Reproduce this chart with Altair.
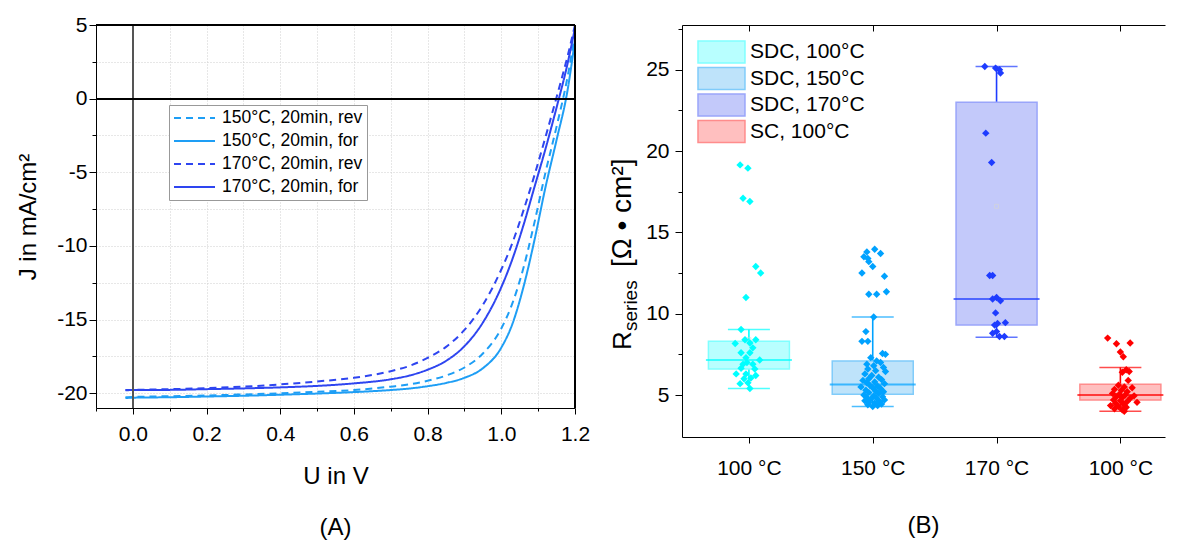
import altair as alt
import pandas as pd

# ---------------- Panel (A): J-V curves ----------------
U = [-0.02, 0.0, 0.1, 0.2, 0.3, 0.4, 0.5, 0.6, 0.7, 0.75, 0.8, 0.85, 0.9, 0.95,
     1.0, 1.03, 1.06, 1.09, 1.12, 1.15, 1.18, 1.2]
J_150_rev = [-20.27, -20.25, -20.2, -20.15, -20.08, -20.0, -19.9, -19.78, -19.55, -19.4,
             -19.15, -18.8, -18.25, -17.3, -15.6, -13.9, -11.5, -8.4, -5.0, -1.9, 1.5, 4.4]
J_150_for = [-20.32, -20.3, -20.27, -20.22, -20.17, -20.1, -20.02, -19.92, -19.78, -19.68,
             -19.52, -19.3, -18.95, -18.3, -16.9, -15.3, -12.8, -9.6, -6.0, -2.8, 0.6, 4.0]
J_170_rev = [-19.78, -19.77, -19.72, -19.65, -19.55, -19.4, -19.2, -18.95, -18.5, -18.15,
             -17.6, -16.85, -15.7, -14.0, -11.6, -9.8, -7.6, -5.2, -2.6, 0.1, 2.9, 5.0]
J_170_for = [-19.8, -19.78, -19.77, -19.72, -19.67, -19.6, -19.5, -19.33, -19.05, -18.8,
             -18.4, -17.8, -16.8, -15.2, -12.8, -10.9, -8.6, -6.0, -3.4, -0.6, 2.4, 4.8]
curve_names = ["150°C, 20min, rev", "150°C, 20min, for", "170°C, 20min, rev", "170°C, 20min, for"]
curve_colors = ["#1E9EF5", "#1E9EF5", "#2E45F0", "#2E45F0"]
curve_dashes = [[7, 5], [1, 0], [7, 5], [1, 0]]

x_ticks_A = [-0.1, 0.0, 0.1, 0.2, 0.3, 0.4, 0.5, 0.6, 0.7, 0.8, 0.9, 1.0, 1.1, 1.2]
x_labeled_A = ["0.0", "0.2", "0.4", "0.6", "0.8", "1.0", "1.2"]
y_ticks_A = [-20, -17.5, -15, -12.5, -10, -7.5, -5, -2.5, 0, 2.5, 5]

# ---------------- Panel (B): R_series box plots ----------------
groups = ["SDC, 100°C", "SDC, 150°C", "SDC, 170°C", "SC, 100°C"]
cat_labels = ["100 °C", "150 °C", "170 °C", "100 °C"]
positions = [1, 2, 3, 4]
q1 = [6.6, 5.05, 9.3, 4.7]
q3 = [8.3, 7.1, 23.0, 5.67]
med = [7.15, 5.65, 10.9, 5.0]
lo = [5.4, 4.3, 8.55, 4.0]
hi = [9.03, 9.8, 25.2, 6.7]
mean = [8.4, 6.4, 16.6, 5.3]

g1_vals = [19.15, 18.95, 17.1, 16.9, 12.9, 12.5, 11.0, 9.03, 8.4, 8.4,
           8.2, 8.17, 7.9, 7.6, 7.6, 7.3, 7.15, 7.0, 6.9, 6.9,
           6.65, 6.6, 6.3, 6.3, 6.2, 6.05, 6.0, 5.75, 5.7, 5.4]
g1_dx = [-9, -1, -6, 1, 7, 12, -3, -8, -4, 7,
         1, -14, 4, -8, 1, -3, 11, -2, -6, 4,
         -8, 6, -3, -13, 7, 2, -5, -1, -9, 1]
g2_vals = [13.96, 13.8, 13.7, 13.5, 13.4, 13.2, 12.9, 12.5, 12.3, 11.35,
           11.2, 11.2, 9.8, 8.9, 8.3, 8.3,
           7.55, 7.5, 7.3, 7.1, 7.0, 6.9, 6.8, 6.7, 6.6, 6.5,
           6.45, 6.3, 6.2, 6.1, 6.0, 5.95, 5.9, 5.8, 5.75, 5.7,
           5.6, 5.55, 5.5, 5.45, 5.4, 5.3, 5.25, 5.2, 5.15, 5.1,
           5.0, 4.95, 4.9, 4.85, 4.8, 4.75, 4.7, 4.65, 4.6, 4.55,
           4.5, 4.45, 4.4, 4.35, 4.3]
g2_dx = [2, -6, 8, -9, -5, -4, 0, -11, 12, 14,
         -4, 4, 1, -7, -11, -5,
         10, 13, -2, 4, 8, -6, 1, 11, -5, 3,
         13, -8, -1, 6, -4, 9, -10, 2, -6, 12,
         -3, 5, -12, 0, 8, -7, 3, 11, -4, 6,
         -9, 1, 10, -6, 4, -2, 12, -8, 7, -4,
         2, 9, -5, 5, 0]
g3_vals = [25.2, 25.1, 25.0, 24.8, 21.1, 19.3, 12.35, 12.35, 11.0, 10.9,
           10.8, 10.05, 9.45, 9.4, 9.3, 8.9, 8.8, 8.6, 8.6]
g3_dx = [-12, -1, 3, 4, -11, -5, -7, -4, 0, -4,
         4, -1, 9, 1, -2, 0, -4, 3, 8]
g4_vals = [8.5, 8.2, 8.15, 7.65, 7.35, 6.55, 6.45, 6.4, 5.9, 5.6,
           5.5, 5.45, 5.35, 5.3, 5.2, 5.1, 5.05, 5.0, 4.95, 4.9,
           4.85, 4.8, 4.7, 4.65, 4.6, 4.55, 4.5, 4.45, 4.35, 4.3,
           4.25, 4.15, 4.1, 4.0]
g4_dx = [-13, 10, -4, 0, 3, 6, 9, 2, 8, -2,
         4, 12, -6, 1, 7, -8, -1, 5, 14, -4,
         2, 10, -7, 0, 7, 17, -5, 3, -10, -2,
         6, -6, 2, 4]

pt_colors = ["#00FFFF", "#00A2FF", "#1E3CFF", "#FF0000"]
box_fill = ["#B8FFFF", "#BEE3FA", "#C3C9FA", "#FFBFBF"]
box_stroke = ["#80FFFF", "#80CCFA", "#9AA5FA", "#FF8C8C"]
y_ticks_B = [5, 7.5, 10, 12.5, 15, 17.5, 20, 22.5, 25, 27.5]

FONT = "Liberation Sans"

# ================= Panel A =================
W_A, H_A = 479, 383
rowsA = []
for name, J in zip(curve_names, [J_150_rev, J_150_for, J_170_rev, J_170_for]):
    for u, j in zip(U, J):
        rowsA.append({"U": u, "J": j, "series": name})
dfA = pd.DataFrame(rowsA)

xA = alt.Scale(domain=[-0.1, 1.2], nice=False, zero=False)
yA = alt.Scale(domain=[-21, 5], nice=False, zero=False)

lab_js = "[" + ",".join(f"'{s}'" for s in x_labeled_A) + "]"
x_major_test = f"indexof({lab_js}, datum.label) >= 0"
axXA = alt.Axis(values=x_ticks_A, format=".1f",
                labelExpr=f"{x_major_test} ? datum.label : ''",
                tickSize={"condition": {"test": x_major_test, "value": 6}, "value": 3},
                grid=True, gridColor="#cfcfcf", gridDash=[1, 2],
                title="U in V", titleFontSize=24, titleFontWeight="normal", titlePadding=20,
                labelFontSize=21, labelPadding=9, labelFont=FONT, titleFont=FONT,
                domainColor="black", tickColor="black", labelColor="black", titleColor="black",
                labelFlush=False, labelOverlap=False)
five_test = "datum.value % 5 == 0"
axYA = alt.Axis(values=y_ticks_A,
                labelExpr=f"{five_test} ? '' + datum.value : ''",
                tickSize={"condition": {"test": five_test, "value": 7}, "value": 4},
                grid=True, gridColor="#cfcfcf", gridDash=[1, 2],
                title="J in mA/cm²", titleFontSize=24, titleFontWeight="normal", titlePadding=16,
                labelFontSize=21, labelPadding=2, labelFont=FONT, titleFont=FONT,
                domainColor="black", tickColor="black", labelColor="black", titleColor="black",
                labelFlush=False, labelOverlap=False)

legA = alt.Legend(orient="none", legendX=73, legendY=80, title=None,
                  symbolType="M-1,0H4.125", symbolSize=256, symbolStrokeWidth=2,
                  labelFontSize=17.5, labelFont=FONT, labelColor="black", labelOffset=31,
                  rowPadding=5, padding=4, strokeColor="#999999", fillColor="white")

lines = alt.Chart(dfA).mark_line(strokeWidth=2, interpolate="monotone", clip=True).encode(
    x=alt.X("U:Q", scale=xA, axis=axXA),
    y=alt.Y("J:Q", scale=yA, axis=axYA),
    color=alt.Color("series:N", scale=alt.Scale(domain=curve_names, range=curve_colors),
                    sort=curve_names, legend=legA),
    strokeDash=alt.StrokeDash("series:N", scale=alt.Scale(domain=curve_names, range=curve_dashes),
                              sort=curve_names, legend=legA),
)
frame_top = alt.Chart(dfA).mark_rule(color="black", strokeWidth=1).encode(
    y=alt.YDatum(5, scale=yA, axis=axYA))
frame_right = alt.Chart(dfA).mark_rule(color="black", strokeWidth=1).encode(
    x=alt.XDatum(1.2, scale=xA, axis=axXA))
zero_h = alt.Chart(dfA).mark_rule(color="black", strokeWidth=1.5).encode(
    y=alt.YDatum(0, scale=yA, axis=axYA))
zero_v = alt.Chart(dfA).mark_rule(color="#555555", strokeWidth=1.2).encode(
    x=alt.XDatum(0, scale=xA, axis=axXA))

chartA = alt.layer(lines, zero_v, zero_h, frame_top, frame_right).properties(
    width=W_A, height=H_A,
    title=alt.TitleParams("(A)", orient="bottom", fontSize=24, fontWeight="normal",
                          font=FONT, color="black", offset=28))

# ================= Panel B =================
W_B, H_B = 483, 412
dom_lo, dom_hi = 0.5, 4.32
ppu = W_B / (dom_hi - dom_lo)

dfBox = pd.DataFrame({"pos": positions, "group": groups, "q1": q1, "q3": q3, "med": med,
                      "lo": lo, "hi": hi, "mean": mean})
rowsB = []
for p, g, vals, dxs in zip(positions, groups, [g1_vals, g2_vals, g3_vals, g4_vals],
                           [g1_dx, g2_dx, g3_dx, g4_dx]):
    for v, d in zip(vals, dxs):
        rowsB.append({"x": p + d / ppu, "val": v, "group": g, "pos": p})
dfPts = pd.DataFrame(rowsB)

xB = alt.Scale(domain=[dom_lo, dom_hi], nice=False, zero=False)
yB = alt.Scale(domain=[2.42, 27.75], nice=False, zero=False)
ptScale = alt.Scale(domain=positions, range=pt_colors)

label_js = "[" + ",".join(f"'{s}'" for s in cat_labels) + "]"
axXB = alt.Axis(values=positions, labelExpr=f"{label_js}[datum.value - 1]",
                tickSize=6, grid=False, title=None, labelFontSize=21, labelPadding=14,
                labelFont=FONT, domainColor="black", tickColor="black", labelColor="black",
                labelFlush=False, labelOverlap=False)
axXB_top = alt.Axis(orient="bottom", offset=-H_B, values=positions, labels=False, tickSize=6,
                    grid=False, title=None, domainColor="black", tickColor="black")
axYB = alt.Axis(values=y_ticks_B, labelExpr=f"{five_test} ? '' + datum.value : ''",
                tickSize={"condition": {"test": five_test, "value": 7}, "value": 4},
                grid=False, title=None, labelFontSize=21, labelPadding=6, labelFont=FONT,
                domainColor="black", tickColor="black", labelColor="black",
                labelFlush=False, labelOverlap=False)

legB = alt.Legend(orient="none", legendX=15, legendY=15, title=None,
                  symbolType="M-1,-1H3.27V1H-1Z", symbolSize=484, symbolStrokeWidth=1.5,
                  labelFontSize=21, labelFont=FONT, labelColor="black", labelOffset=29,
                  rowPadding=-1.5, padding=0)

whisker = alt.Chart(dfBox).mark_bar(size=1.6).encode(
    x=alt.X("pos:Q", scale=xB, axis=axXB),
    y=alt.Y("lo:Q", scale=yB, axis=axYB),
    y2="hi:Q",
    fill=alt.Fill("pos:N", scale=ptScale, legend=None),
)
top_axis = alt.Chart(dfBox).mark_point(opacity=0).encode(
    x=alt.X("pos:Q", scale=xB, axis=axXB_top),
    y=alt.Y("med:Q", scale=yB),
)
box = alt.Chart(dfBox).mark_bar(size=81, strokeWidth=1.5).encode(
    x=alt.X("pos:Q", scale=xB, axis=None),
    y=alt.Y("q1:Q", scale=yB),
    y2="q3:Q",
    color=alt.Color("group:N", scale=alt.Scale(domain=groups, range=box_fill), sort=groups, legend=legB),
    stroke=alt.Stroke("group:N", scale=alt.Scale(domain=groups, range=box_stroke), sort=groups, legend=legB),
)
median = alt.Chart(dfBox).mark_tick(orient="horizontal", size=86, thickness=2).encode(
    x=alt.X("pos:Q", scale=xB, axis=None),
    y=alt.Y("med:Q", scale=yB),
    fill=alt.Fill("pos:N", scale=ptScale, legend=None),
)
cap_lo = alt.Chart(dfBox).mark_tick(orient="horizontal", size=42, thickness=1.5).encode(
    x=alt.X("pos:Q", scale=xB, axis=None),
    y=alt.Y("lo:Q", scale=yB),
    fill=alt.Fill("pos:N", scale=ptScale, legend=None),
)
cap_hi = alt.Chart(dfBox).mark_tick(orient="horizontal", size=42, thickness=1.5).encode(
    x=alt.X("pos:Q", scale=xB, axis=None),
    y=alt.Y("hi:Q", scale=yB),
    fill=alt.Fill("pos:N", scale=ptScale, legend=None),
)
mean_mk = alt.Chart(dfBox).mark_square(size=16, filled=False, strokeWidth=1, color="#d5d5d5").encode(
    x=alt.X("pos:Q", scale=xB, axis=None),
    y=alt.Y("mean:Q", scale=yB),
)
points = alt.Chart(dfPts).mark_point(shape="diamond", filled=True, size=55, opacity=1).encode(
    x=alt.X("x:Q", scale=xB, axis=None),
    y=alt.Y("val:Q", scale=yB),
    fill=alt.Fill("pos:N", scale=ptScale, legend=None),
)
one = pd.DataFrame({"a": [0]})
t_R = alt.Chart(one).mark_text(text="R", angle=270, align="left", baseline="alphabetic",
                               fontSize=26, font=FONT, color="black").encode(
    x=alt.value(-51), y=alt.value(325))
t_sub = alt.Chart(one).mark_text(text="series", angle=270, align="left", baseline="alphabetic",
                                 fontSize=19, font=FONT, color="black").encode(
    x=alt.value(-45), y=alt.value(306))
t_unit = alt.Chart(one).mark_text(text="[Ω • cm²]", angle=270, align="left", baseline="alphabetic",
                                  fontSize=28, font=FONT, color="black").encode(
    x=alt.value(-51), y=alt.value(242))

chartB = alt.layer(whisker, top_axis, box, median, cap_lo, cap_hi, mean_mk, points,
                   t_R, t_sub, t_unit).resolve_axis(x="independent").properties(
    width=W_B, height=H_B,
    title=alt.TitleParams("(B)", orient="bottom", fontSize=24, fontWeight="normal",
                          font=FONT, color="black", offset=36))

chart = alt.hconcat(chartA, chartB, spacing=107, bounds="flush").resolve_scale(
    color="independent", strokeDash="independent", fill="independent", stroke="independent",
    x="independent", y="independent").resolve_legend(
    color="independent", strokeDash="independent", fill="independent", stroke="independent"
).configure_view(stroke=None).properties(
    padding={"left": 16, "top": 14, "right": 5, "bottom": 5})

chart.save("out.html", embed_options={"renderer": "svg", "actions": False})
